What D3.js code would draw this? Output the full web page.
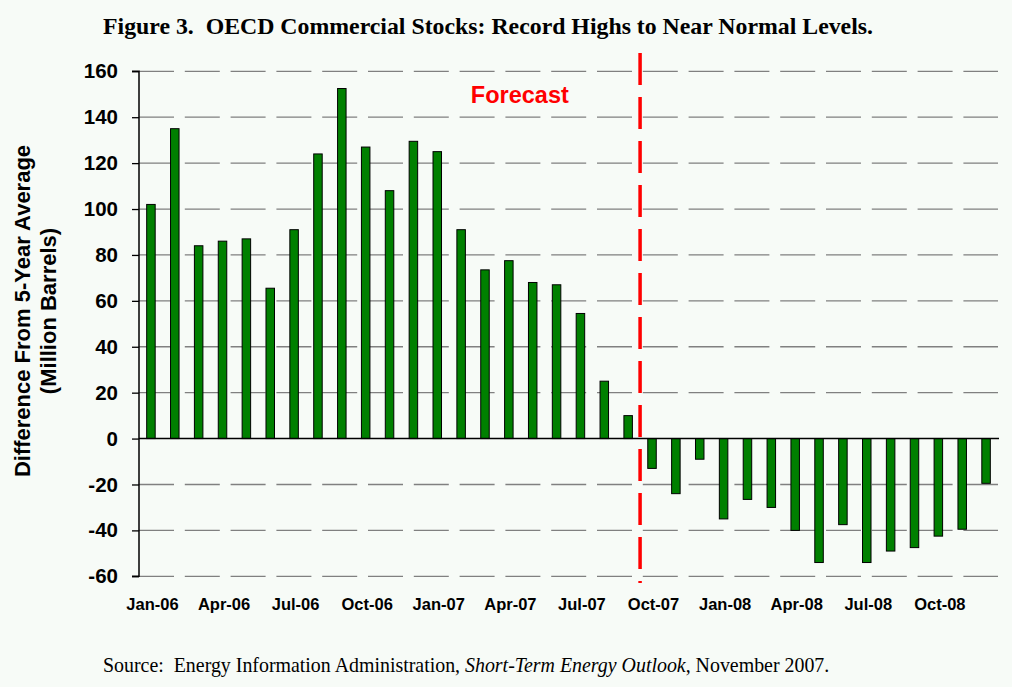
<!DOCTYPE html>
<html><head><meta charset="utf-8">
<script src="https://cdn.jsdelivr.net/npm/d3@7"></script>
<style>
html,body{margin:0;padding:0;background:#F7FBF7;}
svg{display:block;}
</style></head>
<body>
<svg id="chart" width="1012" height="687"></svg>
<script>
const months = ["Jan-06","Feb-06","Mar-06","Apr-06","May-06","Jun-06","Jul-06","Aug-06","Sep-06","Oct-06","Nov-06","Dec-06",
"Jan-07","Feb-07","Mar-07","Apr-07","May-07","Jun-07","Jul-07","Aug-07","Sep-07","Oct-07","Nov-07","Dec-07",
"Jan-08","Feb-08","Mar-08","Apr-08","May-08","Jun-08","Jul-08","Aug-08","Sep-08","Oct-08","Nov-08","Dec-08"];
const stocks = [102,135,84,86,87,65.5,91,124,152.5,127,108,129.5,
125,91,73.5,77.5,68,67,54.5,25,10,-13,-24,-9,
-35,-26.5,-30,-40,-54,-37.5,-54,-49,-47.5,-42.5,-39.5,-19.5];
const xTickLabels = ["Jan-06","Apr-06","Jul-06","Oct-06","Jan-07","Apr-07","Jul-07","Oct-07","Jan-08","Apr-08","Jul-08","Oct-08"];
const yTicks = [-60,-40,-20,0,20,40,60,80,100,120,140,160];
const forecastStart = "Oct-07";

const svg = d3.select("#chart");
const W = 1012, H = 687;
svg.append("rect").attr("width",W).attr("height",H).attr("fill","#F7FBF7");

const m = {left:139, right:14, top:71.3, bottom:110.7};
const x = d3.scaleBand().domain(months).range([m.left, W-m.right]).paddingInner(0).paddingOuter(0);
const y = d3.scaleLinear().domain([-60,160]).range([H-m.bottom, m.top]);

// gridlines
const grid = svg.append("g");
grid.selectAll("line").data(yTicks.filter(d=>d!==0)).join("line")
  .attr("x1", m.left).attr("x2", W-m.right)
  .attr("y1", d=>y(d)).attr("y2", d=>y(d))
  .attr("stroke","#808080").attr("stroke-width",1.3)
  .attr("stroke-dasharray","35 10.8");

// bars
const bw = 8.5;
svg.append("g").selectAll("rect").data(months).join("rect")
  .attr("x", (d)=>x(d)+x.bandwidth()/2-bw/2)
  .attr("width", bw)
  .attr("y", (d,i)=>y(Math.max(0,stocks[i])))
  .attr("height", (d,i)=>Math.abs(y(stocks[i])-y(0)))
  .attr("fill","#008000").attr("stroke","#000").attr("stroke-width",1);

// zero line
svg.append("line").attr("x1",m.left).attr("x2",W-m.right+1)
  .attr("y1",y(0)).attr("y2",y(0)).attr("stroke","#000").attr("stroke-width",1.5);

// y axis
const yAxis = d3.axisLeft(y).tickValues(yTicks).tickSize(7).tickPadding(14).tickFormat(d=>String(d));
const ga = svg.append("g").attr("transform",`translate(${m.left},0)`).call(yAxis);
ga.select(".domain").attr("stroke","#000").attr("stroke-width",1.5).attr("d",`M-7,${y(160)}H0V${y(-60)}H-7`);
ga.selectAll(".tick line").attr("stroke","#000").attr("stroke-width",1.3);
ga.selectAll(".tick text").attr("font-family","Liberation Sans, Arial, sans-serif")
  .attr("font-weight","bold").attr("font-size","20.5px").attr("fill","#000");

// x axis labels
const xAxis = d3.axisBottom(x).tickValues(xTickLabels).tickSize(0).tickPadding(0);
const gx = svg.append("g").attr("transform",`translate(0,${y(-60)})`).call(xAxis);
gx.select(".domain").remove();
gx.selectAll(".tick text").attr("font-family","Liberation Sans, Arial, sans-serif")
  .attr("font-weight","bold").attr("font-size","16.5px").attr("fill","#000")
  .attr("dy",null).attr("y",33.5).attr("dx",1.5);

// forecast line
const fx = x(forecastStart);
svg.append("line").attr("x1",fx).attr("x2",fx).attr("y1",53).attr("y2",583)
  .attr("stroke","#FF0000").attr("stroke-width",3.5).attr("stroke-dasharray","32 12");
svg.append("text").attr("x",x("Apr-07")+x.bandwidth()/2+11).attr("y",103)
  .attr("text-anchor","middle").attr("font-family","Liberation Sans, Arial, sans-serif")
  .attr("font-weight","bold").attr("font-size","23.5px").attr("fill","#FF0000").text("Forecast");

// y title
const yt = svg.append("text").attr("transform","translate(0,311) rotate(-90)")
  .attr("text-anchor","middle").attr("font-family","Liberation Sans, Arial, sans-serif")
  .attr("font-weight","bold").attr("font-size","22px").attr("fill","#000");
yt.append("tspan").attr("x",0).attr("y",30).text("Difference From 5-Year Average");
yt.append("tspan").attr("x",0).attr("y",56).text("(Million Barrels)");

// title
svg.append("text").attr("x",488).attr("y",33.5).attr("text-anchor","middle")
  .attr("font-family","Liberation Serif, Times New Roman, serif").attr("font-weight","bold")
  .attr("font-size","23.8px").attr("fill","#000")
  .text("Figure 3.\u00A0 OECD Commercial Stocks: Record Highs to Near Normal Levels.");

// source
const src = svg.append("text").attr("x",103).attr("y",672)
  .attr("font-family","Liberation Serif, Times New Roman, serif").attr("font-size","19.9px").attr("fill","#000");
src.append("tspan").text("Source:\u00A0 Energy Information Administration, ");
src.append("tspan").attr("font-style","italic").text("Short-Term Energy Outlook");
src.append("tspan").text(", November 2007.");
</script>
</body></html>
